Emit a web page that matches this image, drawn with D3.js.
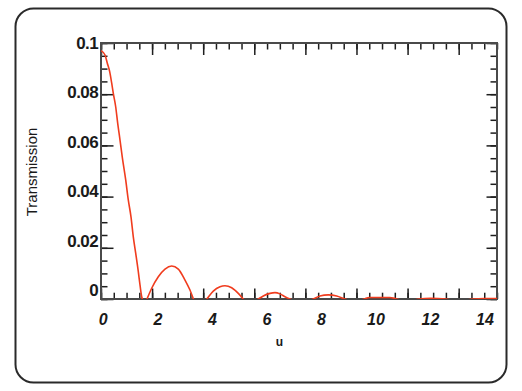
<!DOCTYPE html>
<html>
<head>
<meta charset="utf-8">
<script src="https://cdn.jsdelivr.net/npm/d3@7"></script>
<style>
  html, body { margin: 0; padding: 0; background: #fff; }
  svg { display: block; font-family: "Liberation Sans", Arial, sans-serif; }
</style>
</head>
<body>
<div id="chart"></div>
<script>
// Transmission vs u (negative parts get clipped at the axis)
const uVals = [0, 0.157, 0.247, 0.34, 0.419, 0.48, 0.575, 0.654, 0.744, 0.834, 0.967, 1.068, 1.174, 1.264, 1.358, 1.46, 1.526, 1.593, 1.62,
    1.71, 1.8, 1.984, 2.243, 2.505, 2.767, 3.025, 3.288, 3.483, 3.62,
    3.88, 4.14, 4.395, 4.658, 4.853, 5.115, 5.374, 5.57,
    5.86, 6.157, 6.352, 6.614, 6.81, 7.006, 7.202, 7.397,
    7.85, 8.309, 8.571, 8.896, 9.225, 9.55,
    9.93, 10.305, 10.5, 10.9, 11.3, 11.573,
    12.0, 12.446, 12.9, 13.503,
    14.0, 14.548, 15.0, 15.5];
const tVals = [0.097, 0.0953, 0.0921, 0.0888, 0.0843, 0.0804, 0.0751, 0.0686, 0.0621, 0.0553, 0.0465, 0.0387, 0.0321, 0.0243, 0.0179, 0.0107, 0.0055, 0.0009, 0,
    -0.002, 0, 0.0042, 0.0087, 0.0117, 0.0129, 0.0117, 0.0074, 0.0035, 0,
    -0.003, 0, 0.0031, 0.0048, 0.0052, 0.0044, 0.0022, 0,
    -0.002, 0, 0.0012, 0.0022, 0.0025, 0.002, 0.0009, 0,
    -0.0015, 0, 0.0012, 0.0016, 0.0012, 0,
    -0.001, 0, 0.0006, 0.0006, 0.0006, 0,
    -0.001, 0, 0.0003, 0,
    -0.001, 0, 0.0002, 0.0002];

const xLabels = [0, 2, 4, 6, 8, 10, 12, 14];
const yLabels = [0, 0.02, 0.04, 0.06, 0.08, 0.1];
const xMajor = d3.range(0, 15.01, 2);
const xMinor = d3.range(0, 15.51, 0.5);
const yMajor = d3.range(0, 0.1001, 0.02);
const yMinor = d3.range(0, 0.1001, 0.005);

const W = 522, H = 391;
const plot = { left: 101, right: 497, top: 43, bottom: 299 };

const svg = d3.select('#chart').append('svg')
    .attr('width', W)
    .attr('height', H);

// outer rounded frame
svg.append('rect')
    .attr('x', 15.5).attr('y', 8.5)
    .attr('width', 491).attr('height', 374)
    .attr('rx', 18)
    .attr('fill', 'none')
    .attr('stroke', '#2a2a2a')
    .attr('stroke-width', 2);

const x = d3.scaleLinear().domain([0, 15.5]).range([plot.left, plot.right]);
const y = d3.scaleLinear().domain([0, 0.1]).range([plot.bottom, plot.top]);

// the printed labels sit a bit off the tick marks in the original
const xLab = d3.scaleLinear().domain([0, 14]).range([103.3, 485]);
const yLab = d3.scaleLinear().domain([0, 0.1]).range([290, 42.7]);

svg.append('clipPath').attr('id', 'plot-clip')
    .append('rect')
    .attr('x', plot.left).attr('y', plot.top)
    .attr('width', plot.right - plot.left).attr('height', plot.bottom - plot.top);

// ticks, all pointing inward
function tickAxis(axis, tx, ty, values, size) {
    const g = svg.append('g')
        .attr('transform', `translate(${tx},${ty})`)
        .call(axis.tickValues(values).tickSize(-size).tickFormat(''));
    g.select('.domain').remove();
    g.selectAll('line').attr('stroke', '#1e1e1e').attr('stroke-width', 1.5);
}

tickAxis(d3.axisBottom(x), 0, plot.bottom, xMinor, 6.3);
tickAxis(d3.axisBottom(x), 0, plot.bottom, xMajor, 10.5);
tickAxis(d3.axisTop(x), 0, plot.top, xMinor, 6.5);
tickAxis(d3.axisTop(x), 0, plot.top, xMajor, 12);
tickAxis(d3.axisLeft(y), plot.left, 0, yMinor, 6.5);
tickAxis(d3.axisLeft(y), plot.left, 0, yMajor, 12.5);
tickAxis(d3.axisRight(y), plot.right, 0, yMinor, 6.5);
tickAxis(d3.axisRight(y), plot.right, 0, yMajor, 10.5);

// plot frame
svg.append('rect')
    .attr('x', plot.left).attr('y', plot.top)
    .attr('width', plot.right - plot.left).attr('height', plot.bottom - plot.top)
    .attr('fill', 'none')
    .attr('stroke', '#4a4a4a')
    .attr('stroke-width', 2);

// curve (drawn over the frame so the flat bits show on the axis)
const pts = uVals.map((u, i) => [u, tVals[i]]);
const line = d3.line()
    .x(d => x(d[0]))
    .y(d => y(d[1]))
    .curve(d3.curveMonotoneX);

svg.append('path')
    .datum(pts)
    .attr('clip-path', 'url(#plot-clip)')
    .attr('fill', 'none')
    .attr('stroke', '#f03c1e')
    .attr('stroke-width', 1.6)
    .attr('d', line);

// tick labels
svg.append('g').selectAll('text')
    .data(yLabels)
    .join('text')
    .attr('x', 98)
    .attr('y', d => yLab(d))
    .attr('dy', '0.36em')
    .attr('text-anchor', 'end')
    .attr('font-size', 17)
    .attr('font-weight', 'bold')
    .attr('letter-spacing', -0.6)
    .attr('fill', '#1a1a1a')
    .text(d => d === 0 ? '0' : d3.format('.2~f')(d));

svg.append('g').selectAll('text')
    .data(xLabels)
    .join('text')
    .attr('x', d => xLab(d))
    .attr('y', 325)
    .attr('text-anchor', 'middle')
    .attr('font-size', 16)
    .attr('font-weight', 'bold')
    .attr('font-style', 'italic')
    .attr('fill', '#1a1a1a')
    .text(d => d);

// axis titles
svg.append('text')
    .attr('x', 279.5)
    .attr('y', 346)
    .attr('text-anchor', 'middle')
    .attr('font-size', 12)
    .attr('font-weight', 'bold')
    .attr('fill', '#1a1a1a')
    .text('u');

svg.append('text')
    .attr('transform', 'translate(37,172) rotate(-90)')
    .attr('text-anchor', 'middle')
    .attr('font-size', 15)
    .attr('fill', '#1a1a1a')
    .text('Transmission');
</script>
</body>
</html>
